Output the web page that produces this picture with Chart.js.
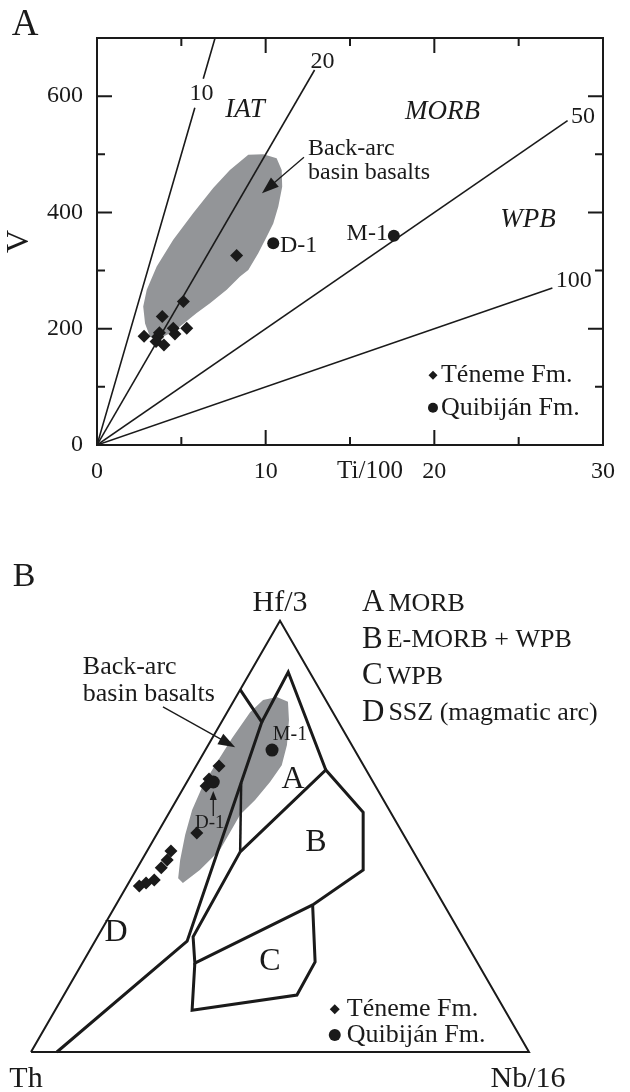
<!DOCTYPE html>
<html>
<head>
<meta charset="utf-8">
<script src="https://cdn.jsdelivr.net/npm/chart.js@4.4.1/dist/chart.umd.min.js"></script>
<style>
  body { margin: 0; background: #fff; width: 630px; height: 1092px; overflow: hidden; }
  canvas { position: absolute; left: 0; }
  #chartA { top: 0; }
  #chartB { top: 500px; }
</style>
</head>
<body>
<canvas id="chartA" width="630" height="500"></canvas>
<canvas id="chartB" width="630" height="592"></canvas>
<script>
const FONT = '"Liberation Serif", "Times New Roman", serif';
const INK = '#1a1a1a';
const FIELD_GREY = '#939598';

// ---- A: V vs Ti/100 ----
const tenemeTi = [2.79, 3.60, 3.70, 3.50, 3.97, 3.87, 4.52, 4.62, 5.32, 5.12, 8.28];
const tenemeV = [187, 186, 193, 178, 172, 221, 201, 191, 201, 247, 326];
const quibijanTi = [10.45, 17.6];
const quibijanV = [347, 360];

// Ti/V reference lines (end points; null = break for the label)
const ratioLabels = ['10', '20', '50', '100'];
const ratioLineTi = [[0, 5.8, null, 6.3, 7.0], [0, 12.9], [0, 27.9], [0, 27.0]];
const ratioLineV = [[0, 580, null, 630, 700], [0, 645], [0, 558], [0, 270]];

// back-arc basin basalt field
const backArcTi = [8.97, 9.86, 10.65, 10.95, 10.98, 10.75, 10.45, 10.06, 9.56, 8.97, 8.48, 7.69, 6.70,
  5.91, 4.92, 4.33, 3.54, 3.14, 2.85, 2.74, 2.95, 3.54, 4.52, 5.71, 6.89, 7.88, 8.97];
const backArcV = [499, 500, 493, 473, 444, 410, 381, 358, 330, 301, 290, 267, 244,
  227, 204, 192, 181, 186, 209, 238, 267, 307, 353, 399, 442, 473, 499];

// ---- B: Th - Hf/3 - Nb/16, points as [Th, Hf/3, Nb/16] % ----
const triangle = [[100, 0, 0], [0, 100, 0], [0, 0, 100], [100, 0, 0]];
const boundaryD = [[16.0, 84.0, 0], [15.4, 76.5, 8.1], [55.8, 25.7, 18.5], [94.8, 0, 5.2]];
const fieldA = [[15.4, 76.5, 8.1], [4.3, 88.1, 7.6], [8.1, 65.4, 26.5]];
const boundaryAD = [[26.6, 62.4, 11.0], [34.8, 46.4, 18.8]];
const fieldB = [[34.8, 46.4, 18.8], [8.1, 65.4, 26.5], [5.5, 55.6, 38.9], [12.2, 42.2, 45.6],
  [26.4, 34.1, 39.5], [56.8, 20.6, 22.6], [54.1, 26.7, 19.2], [34.8, 46.4, 18.8]];
const fieldC = [[56.8, 20.6, 22.6], [62.8, 9.7, 27.5], [40.0, 13.2, 46.8], [32.5, 20.9, 46.6], [26.4, 34.1, 39.5]];
const backArcTern = [[9.5, 82.3, 8.2], [7.8, 81.2, 11.0], [9.7, 77.0, 13.3], [13.0, 71.2, 15.8],
  [16.4, 66.5, 17.1], [20.7, 62.6, 16.7], [25.8, 58.4, 15.8], [30.5, 55.0, 14.5], [38.7, 46.8, 14.5],
  [45.0, 42.2, 12.8], [49.9, 39.2, 10.9], [50.3, 40.3, 9.4], [47.8, 44.5, 7.7], [43.9, 50.3, 5.8],
  [39.6, 56.1, 4.3], [34.5, 61.9, 3.6], [29.8, 66.5, 3.7], [23.2, 72.8, 4.0], [16.6, 78.8, 4.6],
  [12.6, 81.6, 5.8], [9.5, 82.3, 8.2]];
const tenemeTern = [[29.1, 66.3, 4.6], [32.6, 63.3, 4.1], [34.0, 61.7, 4.3], [41.3, 50.8, 7.9],
  [48.6, 46.6, 4.8], [50.4, 44.5, 5.1], [52.5, 42.7, 4.8], [55.3, 39.9, 4.8], [57.3, 39.2, 3.5], [59.0, 38.5, 2.5]];
const quibijanTern = [[32.1, 62.6, 5.3], [16.6, 70.0, 13.4]];

const pairs = (xs, ys) => xs.map((x, i) => ({ x: x, y: ys[i] }));
const SQ3 = Math.sqrt(3) / 2;
const tern = rows => rows.map(([th, hf, nb]) => ({ x: nb + hf / 2, y: hf * SQ3 }));

function font(size, italic) {
  return (italic ? 'italic ' : '') + size + 'px ' + FONT;
}

function text(ctx, str, x, y, size, align, italic) {
  ctx.font = font(size, italic);
  ctx.textAlign = align || 'center';
  ctx.textBaseline = 'middle';
  ctx.fillText(str, x, y);
}

function arrow(ctx, x1, y1, x2, y2, head, half) {
  const a = Math.atan2(y2 - y1, x2 - x1);
  const c = Math.cos(a), s = Math.sin(a);
  ctx.beginPath();
  ctx.moveTo(x1, y1);
  ctx.lineTo(x2 - c * head * 0.7, y2 - s * head * 0.7);
  ctx.stroke();
  ctx.beginPath();
  ctx.moveTo(x2, y2);
  ctx.lineTo(x2 - c * head - s * half, y2 - s * head + c * half);
  ctx.lineTo(x2 - c * head + s * half, y2 - s * head - c * half);
  ctx.closePath();
  ctx.fill();
}

function diamond(ctx, x, y, r) {
  ctx.beginPath();
  ctx.moveTo(x - r, y); ctx.lineTo(x, y - r); ctx.lineTo(x + r, y); ctx.lineTo(x, y + r);
  ctx.closePath(); ctx.fill();
}

function dot(ctx, x, y, r) {
  ctx.beginPath(); ctx.arc(x, y, r, 0, Math.PI * 2); ctx.fill();
}

// frame with inward major/minor ticks on all four sides
const frameTicks = {
  id: 'frameTicks',
  afterDatasetsDraw(chart) {
    const { ctx, chartArea: a, scales: { x, y } } = chart;
    ctx.save();
    ctx.strokeStyle = INK;
    ctx.lineWidth = 2;
    ctx.strokeRect(a.left, a.top, a.right - a.left, a.bottom - a.top);
    ctx.beginPath();
    for (let v = 0; v <= 30; v += 5) {
      const p = x.getPixelForValue(v);
      const len = v % 10 === 0 ? 15 : 8;
      ctx.moveTo(p, a.bottom); ctx.lineTo(p, a.bottom - len);
      ctx.moveTo(p, a.top); ctx.lineTo(p, a.top + len);
    }
    for (let v = 0; v <= 700; v += 100) {
      const p = y.getPixelForValue(v);
      const len = v % 200 === 0 ? 15 : 8;
      ctx.moveTo(a.left, p); ctx.lineTo(a.left + len, p);
      ctx.moveTo(a.right, p); ctx.lineTo(a.right - len, p);
    }
    ctx.stroke();
    ctx.restore();
  }
};

const notesA = {
  id: 'notesA',
  afterDraw(chart) {
    const { ctx, scales: { x, y } } = chart;
    const P = (u, v) => [x.getPixelForValue(u), y.getPixelForValue(v)];
    ctx.save();
    ctx.fillStyle = INK;
    ctx.strokeStyle = INK;
    text(ctx, 'A', 25, 25, 37);
    text(ctx, 'Ti/100', 370, 471, 25);

    text(ctx, ratioLabels[0], ...P(6.19, 605), 24);
    text(ctx, ratioLabels[1], ...P(13.37, 659), 24);
    text(ctx, ratioLabels[2], ...P(28.81, 564), 24);
    text(ctx, ratioLabels[3], ...P(28.27, 282), 24);

    text(ctx, 'IAT', ...P(8.77, 576), 27, 'center', true);
    text(ctx, 'MORB', ...P(20.48, 573), 27, 'center', true);
    text(ctx, 'WPB', ...P(25.55, 387), 27, 'center', true);

    text(ctx, 'Back-arc', ...P(12.51, 509), 24, 'left');
    text(ctx, 'basin basalts', ...P(12.51, 468), 24, 'left');
    ctx.lineWidth = 1.3;
    arrow(ctx, ...P(12.27, 495), ...P(9.78, 433), 17, 6);

    text(ctx, 'D-1', ...P(10.85, 342), 24, 'left');
    text(ctx, 'M-1', ...P(17.25, 363), 24, 'right');

    const [lx, ly1] = P(19.92, 120);
    const ly2 = y.getPixelForValue(64);
    diamond(ctx, lx, ly1, 4.5);
    dot(ctx, lx, ly2, 5);
    text(ctx, 'Téneme Fm.', lx + 8, ly1, 26, 'left');
    text(ctx, 'Quibiján Fm.', lx + 8, ly2, 26, 'left');
    ctx.restore();
  }
};

const lineStyle = { type: 'line', borderColor: INK, borderWidth: 1.6, pointRadius: 0, spanGaps: false, fill: false };

new Chart(document.getElementById('chartA'), {
  type: 'scatter',
  data: {
    datasets: [
      { data: pairs(tenemeTi, tenemeV), pointStyle: 'rectRot', pointRadius: 6.5, backgroundColor: INK, borderWidth: 0 },
      { data: pairs(quibijanTi, quibijanV), pointStyle: 'circle', pointRadius: 6, backgroundColor: INK, borderWidth: 0 },
      ...ratioLineTi.map((xs, i) => Object.assign({ data: pairs(xs, ratioLineV[i]) }, lineStyle)),
      { type: 'line', data: pairs(backArcTi, backArcV), borderWidth: 0, pointRadius: 0,
        backgroundColor: FIELD_GREY, fill: 'shape', order: 10 }
    ]
  },
  options: {
    responsive: false,
    animation: false,
    events: [],
    layout: { padding: { top: 38, right: 27, left: 0, bottom: 0 } },
    plugins: { legend: { display: false }, tooltip: { enabled: false } },
    scales: {
      x: {
        min: 0, max: 30,
        grid: { display: false, drawTicks: false },
        border: { display: false },
        ticks: { stepSize: 10, includeBounds: false, padding: 12, color: INK, font: { family: FONT, size: 24 } },
        afterFit: s => { s.height = 55; }
      },
      y: {
        min: 0, max: 700,
        grid: { display: false, drawTicks: false },
        border: { display: false },
        ticks: { stepSize: 200, includeBounds: false, padding: 14, color: INK, font: { family: FONT, size: 24 } },
        title: { display: true, text: 'V', color: INK, padding: 0, font: { family: FONT, size: 32 } },
        afterFit: s => { s.width = 97; }
      }
    }
  },
  plugins: [frameTicks, notesA]
});

// ---- B ----
const notesB = {
  id: 'notesB',
  afterDraw(chart) {
    const { ctx, chartArea: a, scales: { x, y } } = chart;
    const P = (u, v) => [x.getPixelForValue(u), y.getPixelForValue(v)];
    ctx.save();
    ctx.fillStyle = INK;
    ctx.strokeStyle = INK;
    text(ctx, 'B', 24, 77, 34);

    const apex = P(50, 100 * SQ3);
    text(ctx, 'Hf/3', apex[0], apex[1] - 18, 30);
    text(ctx, 'Th', 26, a.bottom + 27, 30);
    text(ctx, 'Nb/16', 528, a.bottom + 27, 30);

    text(ctx, 'A', ...P(52.6, 54.6), 32);
    text(ctx, 'B', ...P(57.2, 42.0), 32);
    text(ctx, 'C', ...P(48.0, 18.1), 32);
    text(ctx, 'D', ...P(17.1, 23.9), 32);

    text(ctx, 'M-1', ...P(52.0, 63.7), 20);
    text(ctx, 'D-1', ...P(35.9, 46.0), 19);
    ctx.lineWidth = 1.3;
    arrow(ctx, ...P(36.6, 47.4), ...P(36.6, 52.4), 9, 3.5);

    text(ctx, 'Back-arc', ...P(10.4, 77.3), 26, 'left');
    text(ctx, 'basin basalts', ...P(10.4, 71.9), 26, 'left');
    arrow(ctx, ...P(26.5, 69.3), ...P(41.0, 61.2), 17, 6);

    // field key
    const key = [['A', 'MORB'], ['B', 'E-MORB + WPB'], ['C', 'WPB'], ['D', 'SSZ (magmatic arc)']];
    key.forEach(([k, label], i) => {
      const ky = 103 + i * 36.5;
      text(ctx, k, 362, ky, 31, 'left');
      const w = ctx.measureText(k).width;
      text(ctx, label, 362 + w + 4, ky + 1, 26, 'left');
    });

    const [lx, ly1] = P(61.0, 8.6);
    const ly2 = y.getPixelForValue(3.4);
    diamond(ctx, lx, ly1, 5);
    dot(ctx, lx, ly2, 6);
    text(ctx, 'Téneme Fm.', lx + 12, ly1, 26, 'left');
    text(ctx, 'Quibiján Fm.', lx + 12, ly2, 26, 'left');
    ctx.restore();
  }
};

const edge = (rows, width) => ({
  type: 'line', data: tern(rows), borderColor: INK, borderWidth: width,
  borderJoinStyle: 'miter', pointRadius: 0, fill: false, clip: false
});

new Chart(document.getElementById('chartB'), {
  type: 'scatter',
  data: {
    datasets: [
      { data: tern(quibijanTern), pointStyle: 'circle', pointRadius: 6.5, backgroundColor: INK, borderWidth: 0, clip: false },
      { data: tern(tenemeTern), pointStyle: 'rectRot', pointRadius: 6.5, backgroundColor: INK, borderWidth: 0, clip: false },
      edge(triangle, 2),
      edge(boundaryD, 3),
      edge(fieldA, 3),
      edge(boundaryAD, 2.5),
      edge(fieldB, 3),
      edge(fieldC, 3),
      { type: 'line', data: tern(backArcTern), borderWidth: 0, pointRadius: 0,
        backgroundColor: FIELD_GREY, fill: 'shape', order: 10 }
    ]
  },
  options: {
    responsive: false,
    animation: false,
    events: [],
    layout: { padding: { top: 120.7, right: 101, left: 31, bottom: 40 } },
    plugins: { legend: { display: false }, tooltip: { enabled: false } },
    scales: {
      x: { display: false, min: 0, max: 100 },
      y: { display: false, min: 0, max: 100 * SQ3 }
    }
  },
  plugins: [notesB]
});
</script>
</body>
</html>
